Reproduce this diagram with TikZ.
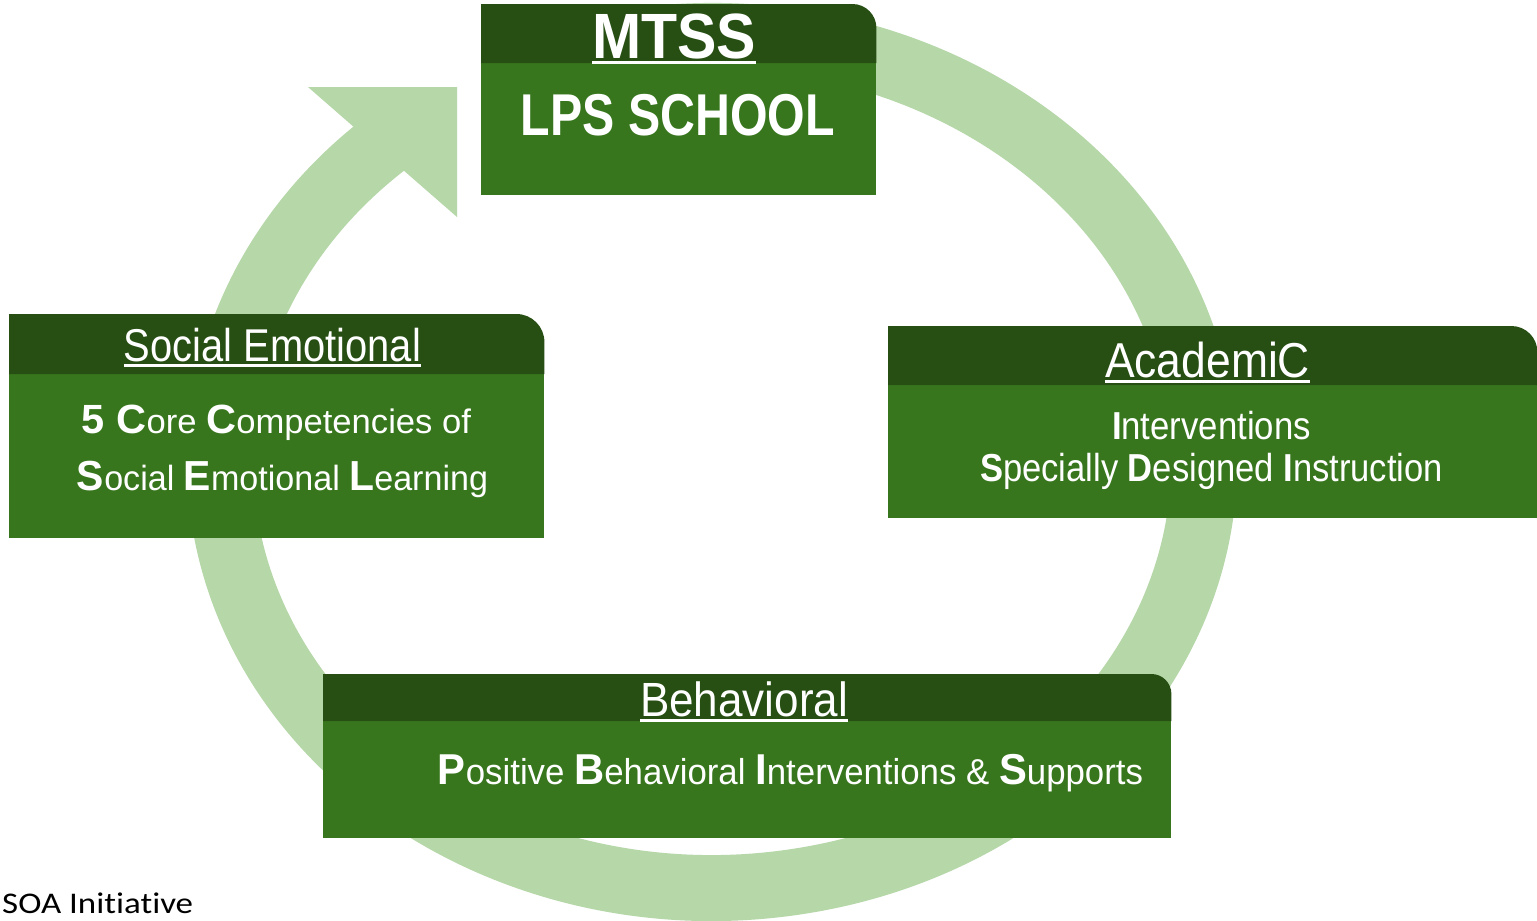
\documentclass[tikz,border=0pt]{standalone}
\usepackage{fontspec}
\setmainfont{Liberation Sans}
\newfontfamily\calfont[Ligatures=NoCommon]{Carlito}
\usepackage{graphicx}
\usetikzlibrary{calc}
\definecolor{ring1}{HTML}{B6D7A8}
\definecolor{green1}{HTML}{274E13}
\definecolor{green2}{HTML}{38761D}
% text squeezed to a given width, natural height kept
\newcommand{\fitto}[2]{\resizebox{#1}{\height}{#2}}
% bold, enlarged initial letter
\newcommand{\ini}[1]{{\bfseries\scalebox{1.2}{#1}}}
% dark header bar above a box, top right corner rounded
\newcommand{\hdrbar}[3]{%
  \fill[green1] (#1.north west) -- ++(0,#2) -- ($(#1.north east)+(-#3,#2)$)
    arc[start angle=90, end angle=0, radius=#3] -- (#1.north east) -- cycle;}

\begin{document}
\begin{tikzpicture}[
    x=1pt, y=1pt,
    body/.style={rectangle, fill=green2, inner sep=0pt, anchor=north west},
    txt/.style={inner sep=0pt, anchor=base, text=white},
    uline/.style={white, line width=3pt},
    ringline/.style={ring1, line width=66pt},
]
\fill[white] (0,0) rectangle (1537,-921);
\path[use as bounding box] (0,0) rectangle (1537,-921);

% ── cycle ring ──
\coordinate (ctr) at (712,-462);
\draw[ringline] ($(ctr)+(100:492 and 426)$)
    arc[start angle=100, end angle=-229, x radius=492, y radius=426];
\fill[ring1] (308,-87) -- (457,-87) -- (457,-217) -- cycle;

% ── boxes ──
\node[body, minimum width=395pt, minimum height=132pt] (mtss) at (481,-63) {};
\hdrbar{mtss}{59}{24}
\node[body, minimum width=535pt, minimum height=164pt] (social) at (9,-374) {};
\hdrbar{social}{60}{28}
\node[body, minimum width=649pt, minimum height=133pt] (acad) at (888,-385) {};
\hdrbar{acad}{59}{26}
\node[body, minimum width=848pt, minimum height=117pt] (behav) at (323,-721) {};
\hdrbar{behav}{47}{20}

% ── MTSS ──
\node[txt, font=\fontsize{64}{64}\selectfont\bfseries] (mtsst) at (674,-58)
    {\fitto{164pt}{MTSS}};
\draw[uline] ([yshift=-4pt]mtsst.base west) -- ([yshift=-4pt]mtsst.base east);
\node[txt, font=\fontsize{59}{59}\selectfont\bfseries] (lps) at (678,-135)
    {\fitto{314pt}{LPS SCHOOL}};

% ── Social Emotional ──
\node[txt, font=\fontsize{46}{46}\selectfont] (socialt) at (272.5,-361)
    {\fitto{297pt}{Social Emotional}};
\draw[uline] ([yshift=-4pt]socialt.base west) -- ([yshift=-4pt]socialt.base east);
\node[txt, font=\fontsize{34}{34}\selectfont] (social1) at (276.5,-433)
    {\fitto{389pt}{\ini{5 C}ore \ini{C}ompetencies of}};
\node[txt, font=\fontsize{35}{35}\selectfont] (social2) at (282.5,-490)
    {\fitto{411pt}{\ini{S}ocial \ini{E}motional \ini{L}earning}};

% ── Academic ──
\node[txt, font=\fontsize{49}{49}\selectfont] (acadt) at (1207.5,-377)
    {\fitto{205pt}{AcademiC}};
\draw[uline] ([yshift=-4pt]acadt.base west) -- ([yshift=-4pt]acadt.base east);
\node[txt, font=\fontsize{39}{39}\selectfont] (acad1) at (1211.5,-439)
    {\fitto{199pt}{\textbf{I}nterventions}};
\node[txt, font=\fontsize{39}{39}\selectfont] (acad2) at (1211.5,-481)
    {\fitto{463pt}{\textbf{S}pecially \textbf{D}esigned \textbf{I}nstruction}};

% ── Behavioral ──
\node[txt, font=\fontsize{48}{48}\selectfont] (behavt) at (744,-716)
    {\fitto{208pt}{Behavioral}};
\draw[uline] ([yshift=-4pt]behavt.base west) -- ([yshift=-4pt]behavt.base east);
\node[txt, font=\fontsize{36}{36}\selectfont] (behav1) at (790.5,-784)
    {\fitto{705pt}{\ini{P}ositive \ini{B}ehavioral \ini{I}nterventions \& \ini{S}upports}};

% ── footer ──
\node[inner sep=0pt, anchor=base west, font=\fontsize{30}{30}\calfont] (soa)
    at (2,-913) {\fitto{191pt}{SOA Initiative}};

\end{tikzpicture}
\end{document}
